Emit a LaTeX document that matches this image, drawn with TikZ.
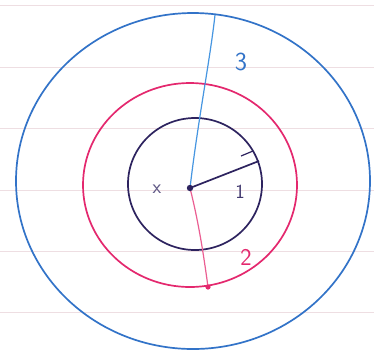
\documentclass[tikz,border=0pt]{standalone}
\begin{document}
\begin{tikzpicture}[x=1pt,y=-1pt,
  ruled/.style={draw=paperline,line width=0.8pt},
  ring/.style={line width=1.7pt},
  lab/.style={inner sep=0pt,font=\sffamily\fontsize{20}{20}\selectfont}]
\definecolor{paperline}{RGB}{238,222,226}
\definecolor{penblue}{RGB}{50,115,200}
\definecolor{lineblue}{RGB}{70,150,225}
\definecolor{penpink}{RGB}{228,40,110}
\definecolor{pendark}{RGB}{45,35,95}
\useasboundingbox (0,0) rectangle (374,360);
\fill[white] (0,0) rectangle (374,360);
% ruled paper
\foreach \y in {5,67,128,190,251,312} \draw[ruled] (0,\y) -- (374,\y);
% rings
\draw[ring,penblue] (193,181) ellipse [x radius=177, y radius=168];
\draw[ring,penpink] (190,185) ellipse [x radius=107, y radius=102];
\draw[ring,pendark] (195,184) ellipse [x radius=67, y radius=66];
% centre and radii
\coordinate (c) at (190,188);
\coordinate (b) at (215,15);
\coordinate (k) at (259,161);
\coordinate (p) at (208,287);
\draw[line width=1.2pt,lineblue] (c) .. controls (198,120) and (210,60) .. (b);
\draw[line width=1.7pt,pendark] (c) -- (k);
\draw[line width=1.2pt,pendark] (241,156) -- (253,151);
\draw[line width=1.2pt,penpink!75] (c) .. controls (198,220) and (203,250) .. (p);
\fill[pendark] (c) circle (3.2);
\fill[penpink] (p) circle (2.6);
% labels
\node[lab,text=pendark!75] (x) at (157,189) {x};
\node[lab,text=pendark!90] (one) at (240,192) {1};
\node[lab,text=penpink,font=\sffamily\fontsize{24}{24}\selectfont] (two) at (246,257) {2};
\node[lab,text=penblue,font=\sffamily\fontsize{26}{26}\selectfont] (three) at (241,62) {3};
\end{tikzpicture}
\end{document}
